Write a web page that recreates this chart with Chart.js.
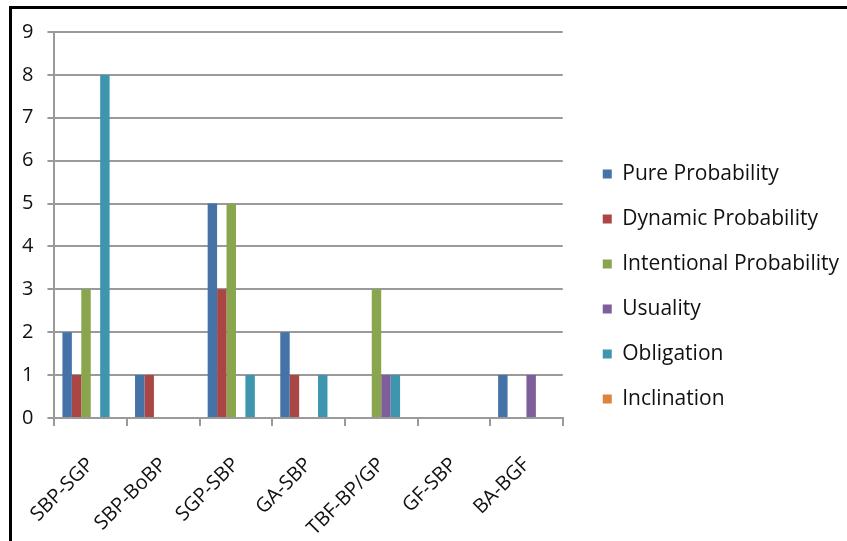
<!DOCTYPE html>
<html lang="en">
<head>
    <meta charset="UTF-8">
    <title>Probability types per pair</title>

    <script src="https://cdn.jsdelivr.net/npm/chart.js"></script>

    <style>
        html, body {
            margin: 0;
            padding: 0;
            background: #fff;
        }

        .frame {
            position: relative;
            width: 847px;
            height: 541px;
            overflow: hidden;
        }

        /* black frame of the original screenshot (top and left edges only) */
        .frame::before {
            content: '';
            position: absolute;
            left: 9px;
            top: 6px;
            right: -10px;
            bottom: -10px;
            border-top: 3px solid #000;
            border-left: 3px solid #000;
        }

        canvas {
            position: absolute;
            left: 0;
            top: 0;
        }
    </style>
</head>
<body>
    <div class="frame">
        <canvas id="pairChart" width="847" height="541"></canvas>
    </div>

    <script>
        // Categories along the x axis
        const pairs = ['SBP-SGP', 'SBP-BoBP', 'SGP-SBP', 'GA-SBP', 'TBF-BP/GP', 'GF-SBP', 'BA-BGF'];

        // Series values, one per pair
        const pureProbability        = [2, 1, 5, 2, 0, 0, 1];
        const dynamicProbability     = [1, 1, 3, 1, 0, 0, 0];
        const intentionalProbability = [3, 0, 5, 0, 3, 0, 0];
        const usuality               = [0, 0, 0, 0, 1, 0, 1];
        const obligation             = [8, 0, 1, 1, 1, 0, 0];
        const inclination            = [0, 0, 0, 0, 0, 0, 0];

        // Value axis ticks
        const yMin = 0;
        const yMax = 9;
        const yStep = 1;

        const fontFamily = "'Open Sans', sans-serif";
        const textColor = '#111';
        const lineColor = '#9a9a9a';

        const ctx = document.getElementById('pairChart').getContext('2d');
        const pairChart = new Chart(ctx, {
            type: 'bar',
            data: {
                labels: pairs,
                datasets: [
                    { label: 'Pure Probability', data: pureProbability, backgroundColor: '#4572A7' },
                    { label: 'Dynamic Probability', data: dynamicProbability, backgroundColor: '#AA4643' },
                    { label: 'Intentional Probability', data: intentionalProbability, backgroundColor: '#89A54E' },
                    { label: 'Usuality', data: usuality, backgroundColor: '#7E5F9C' },
                    { label: 'Obligation', data: obligation, backgroundColor: '#3D96AE' },
                    { label: 'Inclination', data: inclination, backgroundColor: '#DB843D' },
                ],
            },
            options: {
                responsive: false,
                animation: false,
                layout: {
                    padding: { left: 8, top: 32, right: -2, bottom: 0 },
                },
                datasets: {
                    bar: {
                        categoryPercentage: 0.78,
                        barPercentage: 1,
                    },
                },
                plugins: {
                    tooltip: { enabled: false },
                    legend: {
                        position: 'right',
                        maxWidth: 320,
                        labels: {
                            boxWidth: 9,
                            boxHeight: 9,
                            padding: 24,
                            color: textColor,
                            font: { family: fontFamily, size: 21 },
                        },
                    },
                },
                scales: {
                    x: {
                        grid: {
                            drawOnChartArea: false,
                            tickLength: 8,
                            color: lineColor,
                            lineWidth: 2,
                        },
                        border: { color: lineColor, width: 2 },
                        ticks: {
                            autoSkip: false,
                            minRotation: 45,
                            maxRotation: 45,
                            padding: 27,
                            color: textColor,
                            font: { family: fontFamily, size: 20 },
                        },
                        // rotated labels hang left of the plot and run off the bottom, like the original
                        afterFit(scale) {
                            scale.paddingLeft = 0;
                            scale.paddingRight = 0;
                            scale.height = 123;
                        },
                    },
                    y: {
                        min: yMin,
                        max: yMax,
                        grid: {
                            color: lineColor,
                            lineWidth: 2,
                            tickLength: 7,
                        },
                        border: { color: lineColor, width: 2 },
                        ticks: {
                            stepSize: yStep,
                            padding: 14,
                            color: textColor,
                            font: { family: fontFamily, size: 20 },
                        },
                    },
                    // empty axis that only keeps a gap between plot and legend
                    gap: {
                        type: 'linear',
                        position: 'right',
                        grid: { display: false },
                        border: { display: false },
                        ticks: { display: false },
                        afterFit(scale) {
                            scale.width = 16;
                        },
                    },
                },
            },
        });
    </script>
</body>
</html>
